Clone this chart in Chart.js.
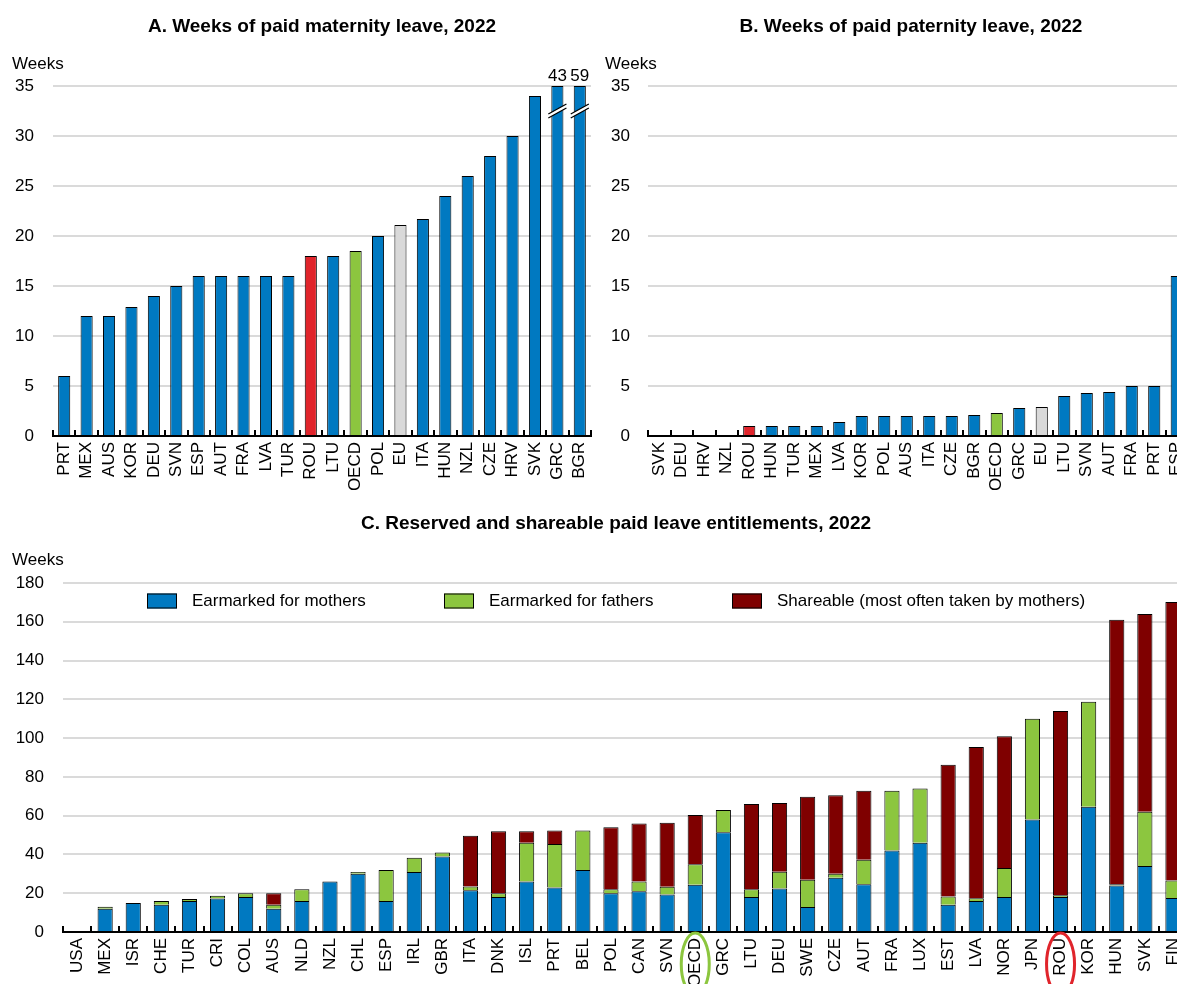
<!DOCTYPE html>
<html>
<head>
<meta charset="utf-8">
<script src="https://cdn.jsdelivr.net/npm/chart.js@4.4.1/dist/chart.umd.min.js"></script>
<style>
  html, body { margin: 0; padding: 0; background: #fff; overflow: hidden; width: 1177px; height: 984px; }
  .panel { position: absolute; }
</style>
</head>
<body>
<div class="panel" style="left:0;top:0;width:595px;height:490px"><canvas id="chartA"></canvas></div>
<div class="panel" style="left:595px;top:0;width:605px;height:490px"><canvas id="chartB"></canvas></div>
<div class="panel" style="left:0;top:500px;width:1200px;height:484px"><canvas id="chartC"></canvas></div>
<script>
// Panel A : semaines de congé maternité payé
const maternityCountries = ['PRT','MEX','AUS','KOR','DEU','SVN','ESP','AUT','FRA','LVA','TUR','ROU','LTU','OECD','POL','EU','ITA','HUN','NZL','CZE','HRV','SVK','GRC','BGR'];
const maternityWeeks = [6, 12, 12, 12.9, 14, 15, 16, 16, 16, 16, 16, 18, 18, 18.5, 20, 21.1, 21.7, 24, 26, 28, 30, 34, 43, 59];

// Panel B : semaines de congé paternité payé
const paternityCountries = ['SVK','DEU','HRV','NZL','ROU','HUN','TUR','MEX','LVA','KOR','POL','AUS','ITA','CZE','BGR','OECD','GRC','EU','LTU','SVN','AUT','FRA','PRT','ESP'];
const paternityWeeks = [0, 0, 0, 0, 1, 1, 1, 1, 1.4, 2, 2, 2, 2, 2, 2.1, 2.3, 2.8, 2.9, 4, 4.3, 4.4, 5, 5, 16];

// Panel C : droits réservés et partageables
const leaveCountries = ['USA','MEX','ISR','CHE','TUR','CRI','COL','AUS','NLD','NZL','CHL','ESP','IRL','GBR','ITA','DNK','ISL','PRT','BEL','POL','CAN','SVN','OECD','GRC','LTU','DEU','SWE','CZE','AUT','FRA','LUX','EST','LVA','NOR','JPN','ROU','KOR','HUN','SVK','FIN'];
const mothersWeeks   = [0, 12, 15, 14, 16, 17.3, 18, 12, 16, 26, 30, 16, 31, 39, 21.5, 18, 26, 23, 32, 20, 21, 19.3, 24.4, 51.4, 18, 22.5, 12.9, 28, 24.6, 42, 46, 14, 16, 18, 58, 18, 64.6, 24, 34, 17.5];
const fathersWeeks   = [0, 1, 0, 2, 1, 1.4, 2, 2, 6, 0, 1, 16, 7.3, 2, 2, 2, 20, 22.4, 20.3, 2, 5, 4, 10.5, 11.5, 4, 8.6, 14.1, 2, 12.7, 30.9, 28, 4.3, 1.4, 15, 52, 1, 54.2, 0.6, 28, 9];
const shareableWeeks = [0, 0, 0, 0, 0, 0, 0, 6, 0, 0, 0, 0, 0, 0, 26.2, 32, 6, 7, 0, 32, 30, 33, 25.4, 0, 44, 35.4, 42.8, 40.5, 35.6, 0, 0, 68, 78, 68, 0, 95, 0, 136.5, 102, 143.7];

const seriesNames = ['Earmarked for mothers', 'Earmarked for fathers', 'Shareable (most often taken by mothers)'];
const circledLabels = { OECD: '#8cc63f', ROU: '#e0242b' };

const FONT = '"Liberation Sans", Arial, sans-serif';
const FSIZE = 17;
const BLUE = '#0079c1', RED = '#e0242b', GREEN = '#8cc63f', GREY = '#d9d9d9', DARKRED = '#7f0000';

function barColours(labels) {
    return labels.map(c => c === 'ROU' ? RED : c === 'OECD' ? GREEN : c === 'EU' ? GREY : BLUE);
}

// titres et unité
const panelText = {
    id: 'panelText',
    afterDraw(chart, args, opts) {
        const ctx = chart.ctx;
        ctx.save();
        ctx.fillStyle = '#000';
        ctx.textBaseline = 'middle';
        ctx.font = 'bold 19px ' + FONT;
        ctx.textAlign = 'center';
        ctx.fillText(opts.title, opts.titleX, opts.titleY);
        ctx.font = FSIZE + 'px ' + FONT;
        ctx.textAlign = 'left';
        ctx.fillText('Weeks', opts.unitX, opts.unitY);
        ctx.restore();
    }
};

// petites graduations vers le haut entre les catégories
const innerTicks = {
    id: 'innerTicks',
    afterDraw(chart) {
        const x = chart.scales.x, ctx = chart.ctx;
        const n = chart.data.labels.length;
        ctx.save();
        ctx.strokeStyle = '#000';
        ctx.lineWidth = 2;
        ctx.beginPath();
        for (let i = 0; i <= n; i++) {
            const px = Math.round(x.left + i * x.width / n);
            ctx.moveTo(px, x.top);
            ctx.lineTo(px, x.top - 6);
        }
        ctx.stroke();
        ctx.restore();
    }
};

// barres tronquées : marque de coupure + valeur
const brokenBars = {
    id: 'brokenBars',
    afterDatasetsDraw(chart, args, opts) {
        const ctx = chart.ctx;
        const meta = chart.getDatasetMeta(0);
        ctx.save();
        opts.values.forEach((v, i) => {
            if (v <= opts.max) return;
            const bar = meta.data[i];
            const half = bar.width / 2 + 3;
            const y0 = bar.y + 27;
            ctx.fillStyle = '#fff';
            ctx.beginPath();
            ctx.moveTo(bar.x - half, y0 + 5);
            ctx.lineTo(bar.x + half, y0 - 5);
            ctx.lineTo(bar.x + half, y0 - 9);
            ctx.lineTo(bar.x - half, y0 + 1);
            ctx.closePath();
            ctx.fill();
            ctx.strokeStyle = '#000';
            ctx.lineWidth = 1.3;
            ctx.beginPath();
            ctx.moveTo(bar.x - half, y0 + 5);
            ctx.lineTo(bar.x + half, y0 - 5);
            ctx.moveTo(bar.x - half, y0 + 1);
            ctx.lineTo(bar.x + half, y0 - 9);
            ctx.stroke();
            ctx.fillStyle = '#000';
            ctx.font = FSIZE + 'px ' + FONT;
            ctx.textAlign = 'center';
            ctx.textBaseline = 'bottom';
            ctx.fillText(String(v), bar.x, bar.y - 1);
        });
        ctx.restore();
    }
};

// légende du panneau C
const boxLegend = {
    id: 'boxLegend',
    afterDraw(chart, args, opts) {
        const ctx = chart.ctx;
        ctx.save();
        ctx.font = FSIZE + 'px ' + FONT;
        ctx.textBaseline = 'middle';
        ctx.textAlign = 'left';
        chart.data.datasets.forEach((ds, i) => {
            const x = opts.xs[i];
            ctx.fillStyle = ds.backgroundColor;
            ctx.fillRect(x, opts.y - 7.5, 30, 15);
            ctx.strokeStyle = '#000';
            ctx.lineWidth = 1;
            ctx.strokeRect(x + 0.5, opts.y - 7, 29, 14);
            ctx.fillStyle = '#000';
            ctx.fillText(ds.label, x + 45, opts.y);
        });
        ctx.restore();
    }
};

// ellipses autour de certains libellés
const circled = {
    id: 'circled',
    afterDraw(chart) {
        const x = chart.scales.x, ctx = chart.ctx;
        ctx.save();
        ctx.lineWidth = 3;
        chart.data.labels.forEach((lab, i) => {
            if (!circledLabels[lab]) return;
            const px = x.getPixelForTick(i);
            ctx.strokeStyle = circledLabels[lab];
            ctx.beginPath();
            ctx.ellipse(px, x.top + 32, 14, 31, 0, 0, Math.PI * 2);
            ctx.stroke();
        });
        ctx.restore();
    }
};

function xScale(height, stacked) {
    return {
        stacked: stacked,
        grid: { display: false, drawTicks: false },
        border: { display: true, color: '#000', width: 2 },
        ticks: { autoSkip: false, minRotation: 90, maxRotation: 90, padding: 6, color: '#000', font: { family: FONT, size: FSIZE } },
        afterFit: s => { s.height = height; s.paddingLeft = 0; s.paddingRight = 0; }
    };
}

function yScale(max, step, width, pad, stacked) {
    return {
        stacked: stacked,
        min: 0, max: max,
        ticks: { stepSize: step, padding: pad, color: '#000', font: { family: FONT, size: FSIZE } },
        grid: { color: '#dadada', lineWidth: 2, drawTicks: false },
        border: { display: false },
        afterFit: s => { s.width = width; s.paddingTop = 0; s.paddingBottom = 0; }
    };
}

const AXIS_MAX_AB = 35;

new Chart(document.getElementById('chartA'), {
    type: 'bar',
    data: {
        labels: maternityCountries,
        datasets: [{
            data: maternityWeeks.map(v => Math.min(v, AXIS_MAX_AB)),
            backgroundColor: barColours(maternityCountries),
            borderColor: '#000', borderWidth: 1,
            barPercentage: 0.54, categoryPercentage: 1
        }]
    },
    options: {
        responsive: true, maintainAspectRatio: false, animation: false,
        layout: { padding: { top: 86, right: 4, left: 0, bottom: 0 } },
        scales: { x: xScale(54, false), y: yScale(AXIS_MAX_AB, 5, 53, 19, false) },
        plugins: {
            legend: { display: false }, tooltip: { enabled: false },
            panelText: { title: 'A. Weeks of paid maternity leave, 2022', titleX: 322, titleY: 27, unitX: 12, unitY: 64 },
            brokenBars: { values: maternityWeeks, max: AXIS_MAX_AB }
        }
    },
    plugins: [panelText, innerTicks, brokenBars]
});

new Chart(document.getElementById('chartB'), {
    type: 'bar',
    data: {
        labels: paternityCountries,
        datasets: [{
            data: paternityWeeks,
            backgroundColor: barColours(paternityCountries),
            borderColor: '#000', borderWidth: 1,
            barPercentage: 0.54, categoryPercentage: 1
        }]
    },
    options: {
        responsive: true, maintainAspectRatio: false, animation: false,
        layout: { padding: { top: 86, right: 12, left: 0, bottom: 0 } },
        scales: { x: xScale(54, false), y: yScale(AXIS_MAX_AB, 5, 53, 18, false) },
        plugins: {
            legend: { display: false }, tooltip: { enabled: false },
            panelText: { title: 'B. Weeks of paid paternity leave, 2022', titleX: 316, titleY: 27, unitX: 10, unitY: 64 }
        }
    },
    plugins: [panelText, innerTicks]
});

new Chart(document.getElementById('chartC'), {
    type: 'bar',
    data: {
        labels: leaveCountries,
        datasets: [
            { label: seriesNames[0], data: mothersWeeks, backgroundColor: BLUE },
            { label: seriesNames[1], data: fathersWeeks, backgroundColor: GREEN },
            { label: seriesNames[2], data: shareableWeeks, backgroundColor: DARKRED }
        ].map(ds => Object.assign(ds, { borderColor: '#000', borderWidth: 1, barPercentage: 0.54, categoryPercentage: 1 }))
    },
    options: {
        responsive: true, maintainAspectRatio: false, animation: false,
        layout: { padding: { top: 83, right: 13, left: 0, bottom: 0 } },
        scales: { x: xScale(52, true), y: yScale(180, 20, 63, 19, true) },
        plugins: {
            legend: { display: false }, tooltip: { enabled: false },
            panelText: { title: 'C. Reserved and shareable paid leave entitlements, 2022', titleX: 616, titleY: 24, unitX: 12, unitY: 60 },
            boxLegend: { xs: [147, 444, 732], y: 101 }
        }
    },
    plugins: [panelText, innerTicks, boxLegend, circled]
});
</script>
</body>
</html>
